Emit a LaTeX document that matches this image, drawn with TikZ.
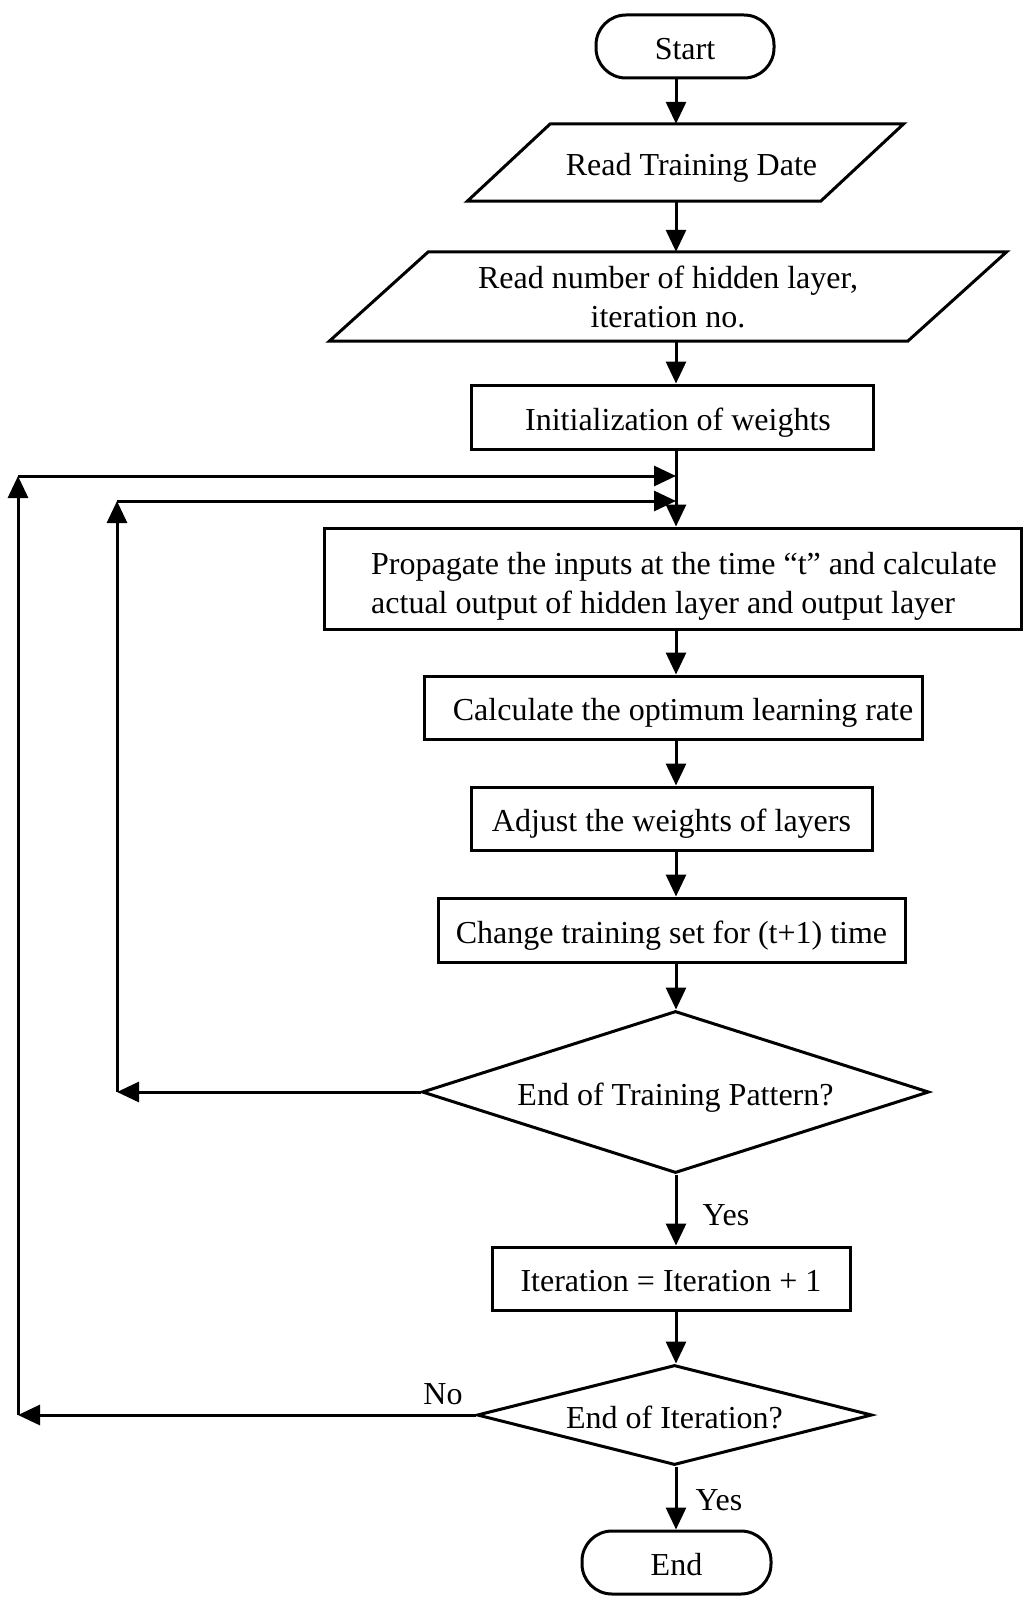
\documentclass[tikz,border=0pt]{standalone}
\usepackage{fontspec}
\setmainfont{Liberation Serif}
\usetikzlibrary{arrows.meta,calc,shapes.geometric}
\begin{document}
\begin{tikzpicture}[x=1pt,y=-1pt,
  every node/.style={font=\fontsize{32}{39}\selectfont},
  txt/.style={text height=27pt, text depth=1pt},
  line/.style={line width=3pt},
  arr/.style={line, -{Triangle[length=22pt,width=20pt]}},
  box/.style={draw, line width=3pt, rectangle, inner sep=0pt, txt},
  term/.style={box, rounded corners=30pt},
  io/.style={rectangle, inner sep=0pt, align=center},
  dec/.style={draw, line width=3pt, diamond, inner sep=0pt, txt},
  lbl/.style={inner sep=0pt}
]
\useasboundingbox (0,0) rectangle (1024,1597);
\coordinate (ax) at (676,0);

% terminals, process boxes, decisions
\node[term, minimum width=178pt, minimum height=63pt] (start) at (685,46.5) {Start};
\node[io, txt, minimum width=353pt, minimum height=77pt] (rd1) at (685.5,162.5) {\hspace*{12pt}Read Training Date};
\node[io, minimum width=578pt, minimum height=89pt] (rd2) at (668,296.5) {Read number of hidden layer,\\iteration no.};
\node[box, minimum width=402pt, minimum height=64pt] (init) at (672,417) {\hspace*{12pt}Initialization of weights};
\node[box, minimum width=697pt, minimum height=101pt] (prop) at (672.5,578.5) {};
\node[lbl, anchor=west, align=left] (proptxt) at (371,586) {Propagate the inputs at the time “t” and calculate\\actual output of hidden layer and output layer};
\node[box, minimum width=498pt, minimum height=63pt] (calc) at (673,707.5) {\hspace*{20pt}Calculate the optimum learning rate};
\node[box, minimum width=401pt, minimum height=63pt] (adj) at (671.5,818.5) {Adjust the weights of layers};
\node[box, minimum width=467pt, minimum height=64pt] (chg) at (671.5,930) {Change training set for (t+1) time};
\node[dec, minimum width=507pt, minimum height=162pt, aspect=3.1] (d1) at (675.5,1092) {End of Training Pattern?};
\node[box, minimum width=358pt, minimum height=63pt] (iter) at (671,1278.5) {Iteration = Iteration + 1};
\node[dec, minimum width=395pt, minimum height=100pt, aspect=3.95] (d2) at (674.5,1415) {End of Iteration?};
\node[term, minimum width=189pt, minimum height=63pt] (end) at (676.5,1562.5) {End};

% input/output parallelograms
\draw[line] ($(rd1.north west)+(41.5,0)$) -- ($(rd1.north east)+(41.5,0)$)
  -- ($(rd1.south east)-(41.5,0)$) -- ($(rd1.south west)-(41.5,0)$) -- cycle;
\draw[line] ($(rd2.north west)+(49.5,0)$) -- ($(rd2.north east)+(49.5,0)$)
  -- ($(rd2.south east)-(49.5,0)$) -- ($(rd2.south west)-(49.5,0)$) -- cycle;

% main flow
\draw[arr] (start.south -| ax) -- (rd1.north -| ax);
\draw[arr] (rd1.south -| ax) -- (rd2.north -| ax);
\draw[arr] (rd2.south -| ax) -- (init.north -| ax);
\draw[arr] (init.south -| ax) -- (prop.north -| ax);
\draw[arr] (prop.south -| ax) -- (calc.north -| ax);
\draw[arr] (calc.south -| ax) -- (adj.north -| ax);
\draw[arr] (adj.south -| ax) -- (chg.north -| ax);
\draw[arr] (chg.south -| ax) -- (d1.north -| ax);
\draw[arr] (d1.south -| ax) -- (iter.north -| ax);
\draw[arr] (iter.south -| ax) -- (d2.north -| ax);
\draw[arr] (d2.south -| ax) -- (end.north -| ax);

% feedback loops
\coordinate (l1) at (18,476);
\coordinate (l2) at (117,501);
\draw[arr] (d2.west) -- (d2.west -| l1);
\draw[arr] (d2.west -| l1) -- (l1);
\draw[arr] (l1) -- (l1 -| ax);
\draw[arr] (d1.west) -- (d1.west -| l2);
\draw[arr] (d1.west -| l2) -- (l2);
\draw[arr] (l2) -- (l2 -| ax);

% branch labels
\node[lbl] (yes1) at (726,1215) {Yes};
\node[lbl] (no) at (443,1394) {No};
\node[lbl] (yes2) at (719,1500) {Yes};
\end{tikzpicture}
\end{document}
